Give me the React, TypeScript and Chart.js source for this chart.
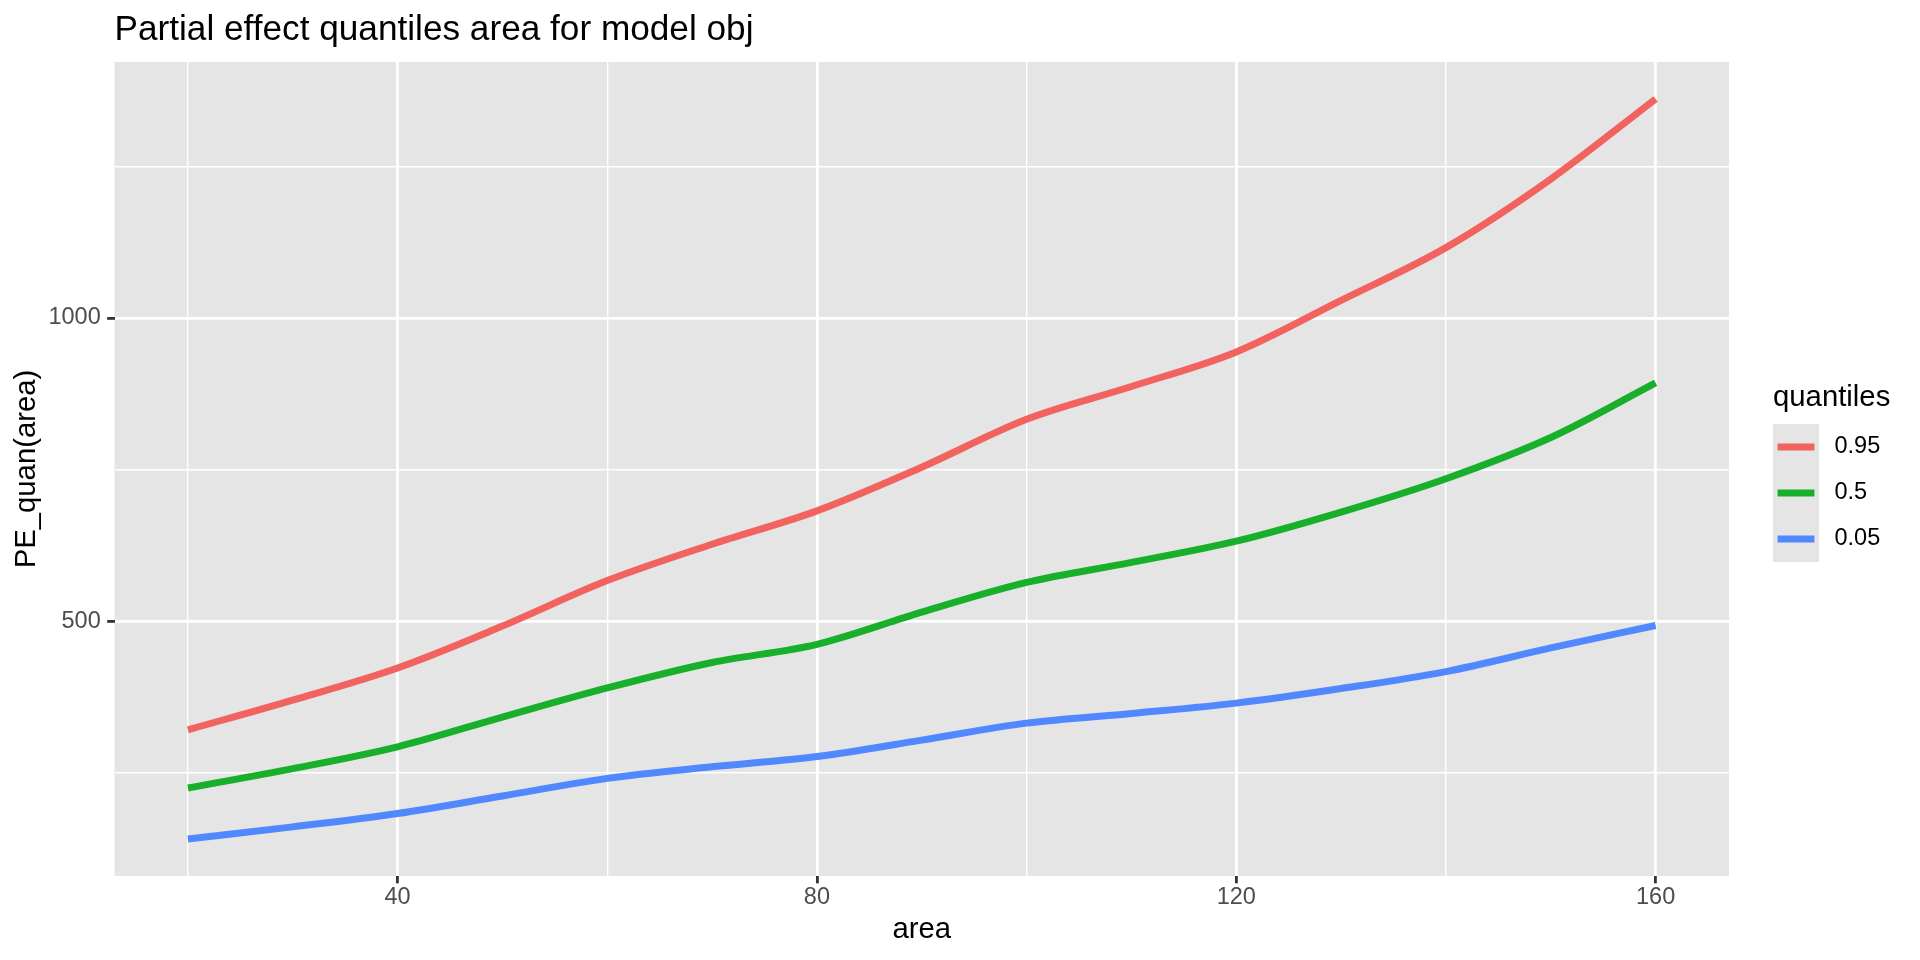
import React, { useEffect, useRef } from "react";
import { Chart, registerables } from "chart.js";

Chart.register(...registerables);

// ---- data ----
const areaValues = [20, 30, 40, 50, 60, 70, 80, 90, 100, 110, 120, 130, 140, 150, 160];
const q95Values = [321, 370, 423, 492, 567, 627, 682, 754, 833, 887, 944, 1029, 1116, 1229, 1361];
const q50Values = [225, 257, 293, 342, 390, 432, 462, 515, 564, 597, 632, 680, 735, 803, 893];
const q05Values = [141, 161, 183, 212, 241, 260, 277, 304, 332, 348, 365, 389, 417, 456, 493];
const quantileLabels = ["0.95", "0.5", "0.05"];
const seriesColors = ["#F2625E", "#18B02A", "#5288FF"];

const xTickValues = [20, 40, 60, 80, 100, 120, 140, 160];
const xMajorTicks = [40, 80, 120, 160];
const yTickValues = [250, 500, 750, 1000, 1250];
const yMajorTicks = [500, 1000];

const chartTitle = "Partial effect quantiles area for model obj";
const xAxisTitle = "area";
const yAxisTitle = "PE_quan(area)";
const legendTitle = "quantiles";

// ---- style ----
const FONT = '"Liberation Sans", Arial, sans-serif';
const PANEL_BG = "#E5E5E5";
const TICK_COLOR = "#333333";
const TICK_LABEL_COLOR = "#4D4D4D";

const allValues = [...q95Values, ...q50Values, ...q05Values];
const yLo = Math.min(...allValues);
const yHi = Math.max(...allValues);
const yPad = (yHi - yLo) * 0.05;
const xLo = Math.min(...areaValues);
const xHi = Math.max(...areaValues);
const xPad = (xHi - xLo) * 0.05;

const seriesValues = [q95Values, q50Values, q05Values];

const panelBgPlugin = {
  id: "panelBg",
  beforeDraw(chart: any) {
    const { ctx, chartArea: a } = chart;
    ctx.save();
    ctx.fillStyle = "#FFFFFF";
    ctx.fillRect(0, 0, chart.width, chart.height);
    ctx.fillStyle = PANEL_BG;
    ctx.fillRect(a.left, a.top, a.right - a.left, a.bottom - a.top);
    ctx.restore();
  },
};

const titlePlugin = {
  id: "ggTitle",
  afterDraw(chart: any) {
    const { ctx, chartArea: a } = chart;
    ctx.save();
    ctx.font = `35.2px ${FONT}`;
    ctx.fillStyle = "#000000";
    ctx.textAlign = "left";
    ctx.textBaseline = "alphabetic";
    ctx.fillText(chartTitle, a.left, 40);
    ctx.restore();
  },
};

const legendPlugin = {
  id: "ggLegend",
  afterDraw(chart: any) {
    const { ctx, chartArea: a } = chart;
    const mid = (a.top + a.bottom) / 2 + 3;
    const left = a.right + 44;
    const keySize = 46;
    const keysTop = mid - 48;
    ctx.save();
    ctx.font = `29.3px ${FONT}`;
    ctx.fillStyle = "#000000";
    ctx.textAlign = "left";
    ctx.textBaseline = "alphabetic";
    ctx.fillText(legendTitle, left, mid - 66);
    const ds = chart.data.datasets;
    ctx.fillStyle = PANEL_BG;
    ctx.fillRect(left, keysTop, keySize, keySize * ds.length);
    ds.forEach((d: any, i: number) => {
      const cy = keysTop + keySize * i + keySize / 2;
      ctx.strokeStyle = d.borderColor;
      ctx.lineWidth = 7;
      ctx.lineCap = "butt";
      ctx.beginPath();
      ctx.moveTo(left + 4.6, cy);
      ctx.lineTo(left + keySize - 4.6, cy);
      ctx.stroke();
      ctx.fillStyle = "#000000";
      ctx.font = `23.5px ${FONT}`;
      ctx.textBaseline = "middle";
      ctx.fillText(d.label, left + keySize + 15.5, cy);
      ctx.fillStyle = PANEL_BG;
    });
    ctx.restore();
  },
};

function isMajor(ctx: any, majors: number[]) {
  return ctx && ctx.tick ? majors.includes(ctx.tick.value) : false;
}

export default function App() {
  const canvasRef = useRef<HTMLCanvasElement | null>(null);

  useEffect(() => {
    if (!canvasRef.current) return;
    const chart = new Chart(canvasRef.current, {
      type: "line",
      data: {
        datasets: quantileLabels.map((label, i) => ({
          label,
          data: areaValues.map((x, j) => ({ x, y: seriesValues[i][j] })),
          borderColor: seriesColors[i],
          backgroundColor: seriesColors[i],
          borderWidth: 7,
          borderCapStyle: "butt" as const,
          borderJoinStyle: "round" as const,
          pointRadius: 0,
          pointHoverRadius: 0,
          fill: false,
          cubicInterpolationMode: "monotone" as const,
        })),
      },
      options: {
        animation: false,
        responsive: false,
        maintainAspectRatio: false,
        events: [],
        layout: { padding: { top: 62, right: 191, bottom: 0, left: 0 } },
        plugins: {
          legend: { display: false },
          tooltip: { enabled: false },
          title: { display: false },
        },
        scales: {
          x: {
            type: "linear",
            min: xLo - xPad,
            max: xHi + xPad,
            afterBuildTicks: (s: any) => {
              s.ticks = xTickValues.map((v) => ({ value: v }));
            },
            afterFit: (s: any) => {
              s.height = 84;
            },
            border: { display: false },
            grid: {
              color: "#FFFFFF",
              lineWidth: (c: any) => (isMajor(c, xMajorTicks) ? 2.8 : 1.4),
              drawTicks: true,
              tickLength: 7.3,
              tickWidth: 2.8,
              tickColor: (c: any) => (isMajor(c, xMajorTicks) ? TICK_COLOR : "rgba(0,0,0,0)"),
            },
            ticks: {
              autoSkip: false,
              maxRotation: 0,
              minRotation: 0,
              padding: 0,
              color: TICK_LABEL_COLOR,
              font: { family: FONT, size: 23.5, lineHeight: 1.2 },
              callback: (v: any) => (xMajorTicks.includes(Number(v)) ? String(v) : ""),
            },
            title: {
              display: true,
              text: xAxisTitle,
              color: "#000000",
              font: { family: FONT, size: 29.3, lineHeight: 1.2 },
              padding: { top: 0, bottom: 12.6 },
            },
          },
          y: {
            type: "linear",
            min: yLo - yPad,
            max: yHi + yPad,
            afterBuildTicks: (s: any) => {
              s.ticks = yTickValues.map((v) => ({ value: v }));
            },
            afterFit: (s: any) => {
              s.width = 114.5;
            },
            border: { display: false },
            grid: {
              color: "#FFFFFF",
              lineWidth: (c: any) => (isMajor(c, yMajorTicks) ? 2.8 : 1.4),
              drawTicks: true,
              tickLength: 7.3,
              tickWidth: 2.8,
              tickColor: (c: any) => (isMajor(c, yMajorTicks) ? TICK_COLOR : "rgba(0,0,0,0)"),
            },
            ticks: {
              autoSkip: false,
              padding: 6.5,
              color: TICK_LABEL_COLOR,
              font: { family: FONT, size: 23.5, lineHeight: 1.2 },
              callback: (v: any) => (yMajorTicks.includes(Number(v)) ? String(v) : ""),
            },
            title: {
              display: true,
              text: yAxisTitle,
              color: "#000000",
              font: { family: FONT, size: 29.3, lineHeight: 1.2 },
              padding: { top: 8.9, bottom: 0 },
            },
          },
        },
      },
      plugins: [panelBgPlugin, titlePlugin, legendPlugin],
    } as any);
    return () => chart.destroy();
  }, []);

  return (
    <div style={{ position: "fixed", left: 0, top: 0, width: 1920, height: 960, background: "#FFFFFF" }}>
      <canvas ref={canvasRef} width={1920} height={960} style={{ display: "block", width: 1920, height: 960 }} />
    </div>
  );
}
